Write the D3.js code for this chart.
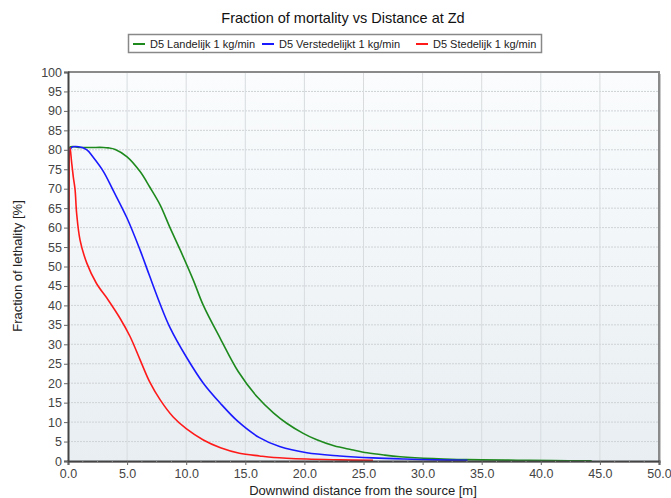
<!DOCTYPE html>
<html><head><meta charset="utf-8">
<script src="https://cdn.jsdelivr.net/npm/d3@7"></script>
<style>body{margin:0;background:#fff;font-family:"Liberation Sans",Arial,sans-serif}</style>
</head><body><svg id="c" width="671" height="498"></svg>
<script>
const title = "Fraction of mortality vs Distance at Zd";
const xLabel = "Downwind distance from the source [m]";
const yLabel = "Fraction of lethality [%]";
const seriesNames = ["D5 Landelijk 1 kg/min","D5 Verstedelijkt 1 kg/min","D5 Stedelijk 1 kg/min"];
const seriesColors = ["#1e8a1e","#1a1aff","#ff1a1a"];
const xTicks = [0,5,10,15,20,25,30,35,40,45,50];
const yTicks = [0,5,10,15,20,25,30,35,40,45,50,55,60,65,70,75,80,85,90,95,100];

const greenX = [0,0.05,0.12,1,2,3,3.4,4,5,6.1,6.9,7.8,8.6,9.5,10.6,11.45,12.9,14.4,16,17.4,18.5,19.9,21,22.5,24,25.3,26.8,28.1,30.9,33,35,38,41,44.3];
const greenY = [0,60,80.6,80.6,80.6,80.6,80.5,80.1,78.2,74.4,70.5,65.8,60.2,54.2,46.5,40,31.4,23,16.5,12.3,9.7,7.1,5.5,3.9,2.9,2.1,1.5,1.1,0.6,0.4,0.3,0.2,0.1,0.05];
const blueX = [0,0.1,0.3,0.9,1.6,2.1,3,3.8,5,6.1,6.9,7.8,8.6,10,11.45,12.9,14.4,16.2,17.9,20.2,23,25.8,28.5,31,33.8];
const blueY = [74,79,80.6,80.8,80,78.2,74.4,69.7,62.4,54.2,47.6,40.3,34.5,26.8,20,14.8,10.1,6,3.7,2.1,1.3,0.8,0.5,0.3,0.15];
const redX = [0,0.08,0.17,0.3,0.45,0.6,0.73,1.02,1.6,2.4,3.4,4.4,5.25,6.1,6.9,7.8,8.9,10,11.45,12.9,14.5,16.2,17.4,20.2,23,25.8];
const redY = [0,55,80.6,77,73,69.7,63.7,56.8,50.8,45.7,41.4,36.7,32,26,20.4,15.7,11.3,8.3,5.4,3.4,2,1.3,0.9,0.5,0.3,0.15];
const seriesX = [greenX, blueX, redX];
const seriesY = [greenY, blueY, redY];

const svg = d3.select("#c");
const L = 68, R = 659, T = 72, B = 461;
const x = d3.scaleLinear().domain([0,50]).range([L,R]);
const y = d3.scaleLinear().domain([0,100]).range([B,T]);

const defs = svg.append("defs");
const grad = defs.append("linearGradient").attr("id","bg").attr("x1",0).attr("y1",0).attr("x2",0).attr("y2",1);
grad.append("stop").attr("offset","0%").attr("stop-color","#fafcfd");
grad.append("stop").attr("offset","100%").attr("stop-color","#e8eef2");
defs.append("clipPath").attr("id","clip").append("rect").attr("x",L).attr("y",T-2).attr("width",R-L).attr("height",B-T+2);

svg.append("rect").attr("x",L+2).attr("y",T+2).attr("width",R-L).attr("height",B-T).attr("fill","#c8c8c8");
svg.append("rect").attr("x",L).attr("y",T).attr("width",R-L).attr("height",B-T).attr("fill","url(#bg)");

svg.append("g").selectAll("line").data(yTicks.filter(d=>d>0&&d<100)).join("line")
  .attr("x1",L).attr("x2",R).attr("y1",d=>y(d)).attr("y2",d=>y(d))
  .attr("stroke","#cfd3d6").attr("stroke-dasharray","2,1").attr("stroke-width",1);
svg.append("g").selectAll("line").data(xTicks.filter(d=>d>0&&d<50)).join("line")
  .attr("y1",T).attr("y2",B).attr("x1",d=>x(d)).attr("x2",d=>x(d))
  .attr("stroke","#d8dcdf").attr("stroke-width",1);

svg.append("path").attr("d",`M${L},${T}H${R}V${B}`).attr("fill","none").attr("stroke","#8a8a8a").attr("stroke-width",2);

const line = d3.line().x(d=>x(d[0])).y(d=>y(d[1])).curve(d3.curveCatmullRom.alpha(0.5));
const g = svg.append("g").attr("clip-path","url(#clip)");
seriesX.forEach((xs,i)=>{
  const pts = xs.map((v,j)=>[v,seriesY[i][j]]);
  g.append("path").datum(pts).attr("d",line).attr("fill","none")
    .attr("stroke",seriesColors[i]).attr("stroke-width",1.6);
});

const xAxis = d3.axisBottom(x).tickValues(xTicks).tickFormat(d3.format(".1f")).tickSize(4).tickPadding(4);
const xg = svg.append("g").attr("transform",`translate(0,${B})`).call(xAxis);
xg.select(".domain").attr("stroke","#444").attr("stroke-width",2);
xg.selectAll(".tick line").attr("stroke","#666");
xg.selectAll("text").attr("font-size",12.5).attr("fill","#444").attr("font-family","Liberation Sans, Arial");
const minorX = d3.range(0,50.01,1.25).filter(v=>v%5!==0);
svg.append("g").selectAll("line").data(minorX).join("line")
  .attr("x1",d=>x(d)).attr("x2",d=>x(d)).attr("y1",B).attr("y2",B+2).attr("stroke","#888");

const yAxis = d3.axisLeft(y).tickValues(yTicks).tickSize(4).tickPadding(2);
const yg = svg.append("g").attr("transform",`translate(${L},0)`).call(yAxis);
yg.select(".domain").attr("stroke","#444").attr("stroke-width",2);
yg.selectAll(".tick line").attr("stroke","#666");
yg.selectAll("text").attr("font-size",12.5).attr("fill","#444").attr("font-family","Liberation Sans, Arial");

svg.append("text").attr("x",343).attr("y",23).attr("text-anchor","middle").attr("font-size",14.5).attr("fill","#111").text(title);
svg.append("text").attr("x",363).attr("y",495).attr("text-anchor","middle").attr("font-size",13).attr("fill","#222").text(xLabel);
svg.append("text").attr("transform","translate(22,266) rotate(-90)").attr("text-anchor","middle").attr("font-size",13).attr("fill","#222").text(yLabel);

svg.append("rect").attr("x",128.5).attr("y",34.5).attr("width",413).attr("height",18).attr("fill","#fff").attr("stroke","#888").attr("stroke-width",1.5);
const legX = [133,262,416];
seriesNames.forEach((n,i)=>{
  svg.append("line").attr("x1",legX[i]).attr("x2",legX[i]+12).attr("y1",44).attr("y2",44).attr("stroke",seriesColors[i]).attr("stroke-width",2);
  svg.append("text").attr("x",legX[i]+17).attr("y",48).attr("font-size",11).attr("fill","#222").text(n);
});
</script></body></html>
